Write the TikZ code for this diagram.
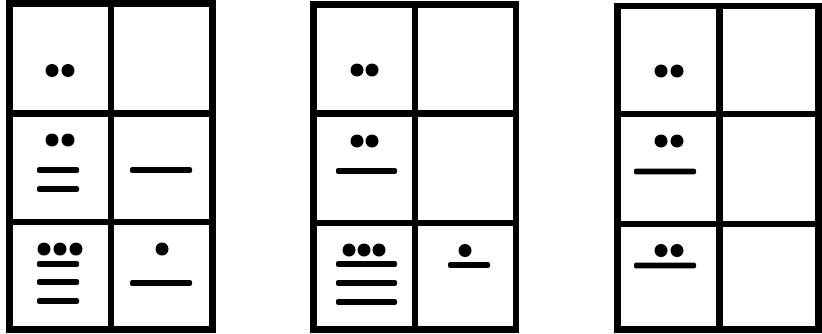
\documentclass[tikz,border=0pt]{standalone}
\usepackage{tikz}
\usetikzlibrary{positioning}

\begin{document}
\begin{tikzpicture}[
    x=0.3mm, y=-0.3mm,
    frame/.style={draw=black, line width=2mm},
    dot/.style={circle, fill=black, inner sep=0pt, minimum size=3.9mm},
    bar/.style={rectangle, fill=black, inner sep=0pt, minimum height=1.75mm,
        minimum width=#1*0.3mm, rounded corners=0.6mm}
]
    \useasboundingbox (0,0) rectangle (822,333);
    % the three tables, two columns and three rows each
    \foreach \xl/\xm/\xr/\yt/\ya/\yb in {9.5/111/212.5/3.5/113.5/222,
        313.5/415/516/4.5/113.5/223, 617.5/719.5/818.5/6/114/224}{
        \draw[frame] (\xl,\yt) rectangle (\xr,329.5);
        \draw[frame] (\xm,\yt) -- (\xm,329.5);
        \draw[frame] (\xl,\ya) -- (\xr,\ya);
        \draw[frame] (\xl,\yb) -- (\xr,\yb);
    }
    % first table
    \node[dot] (a-d1) at (52,70.5) {};
    \node[dot] (a-d2) at (68,70.5) {};
    \node[dot] (a-d3) at (52,140) {};
    \node[dot] (a-d4) at (68,140) {};
    \node[bar=42] (a-b1) at (58,170) {};
    \node[bar=42] (a-b2) at (58,189) {};
    \node[bar=62] (a-b3) at (161,170) {};
    \node[dot] (a-d5) at (44,249) {};
    \node[dot] (a-d6) at (60,249) {};
    \node[dot] (a-d7) at (76,249) {};
    \node[bar=42] (a-b4) at (58,264) {};
    \node[bar=42] (a-b5) at (58,282) {};
    \node[bar=42] (a-b6) at (58,301) {};
    \node[dot] (a-d8) at (162,249) {};
    \node[bar=62] (a-b7) at (161,283) {};
    % second table
    \node[dot] (b-d1) at (357,70) {};
    \node[dot] (b-d2) at (372,70) {};
    \node[dot] (b-d3) at (357,141) {};
    \node[dot] (b-d4) at (372,141) {};
    \node[bar=61] (b-b1) at (366.5,171) {};
    \node[dot] (b-d5) at (349,250) {};
    \node[dot] (b-d6) at (364,250) {};
    \node[dot] (b-d7) at (379,250) {};
    \node[bar=61] (b-b2) at (366.5,264) {};
    \node[bar=61] (b-b3) at (366.5,283) {};
    \node[bar=61] (b-b4) at (366.5,302) {};
    \node[dot] (b-d8) at (465,250.5) {};
    \node[bar=42] (b-b5) at (469,265) {};
    % third table
    \node[dot] (c-d1) at (661,71) {};
    \node[dot] (c-d2) at (677,71) {};
    \node[dot] (c-d3) at (661,141) {};
    \node[dot] (c-d4) at (677,141) {};
    \node[bar=62] (c-b1) at (665,171.5) {};
    \node[dot] (c-d5) at (661,250.5) {};
    \node[dot] (c-d6) at (677,250.5) {};
    \node[bar=62] (c-b2) at (665,265.5) {};
\end{tikzpicture}
\end{document}
